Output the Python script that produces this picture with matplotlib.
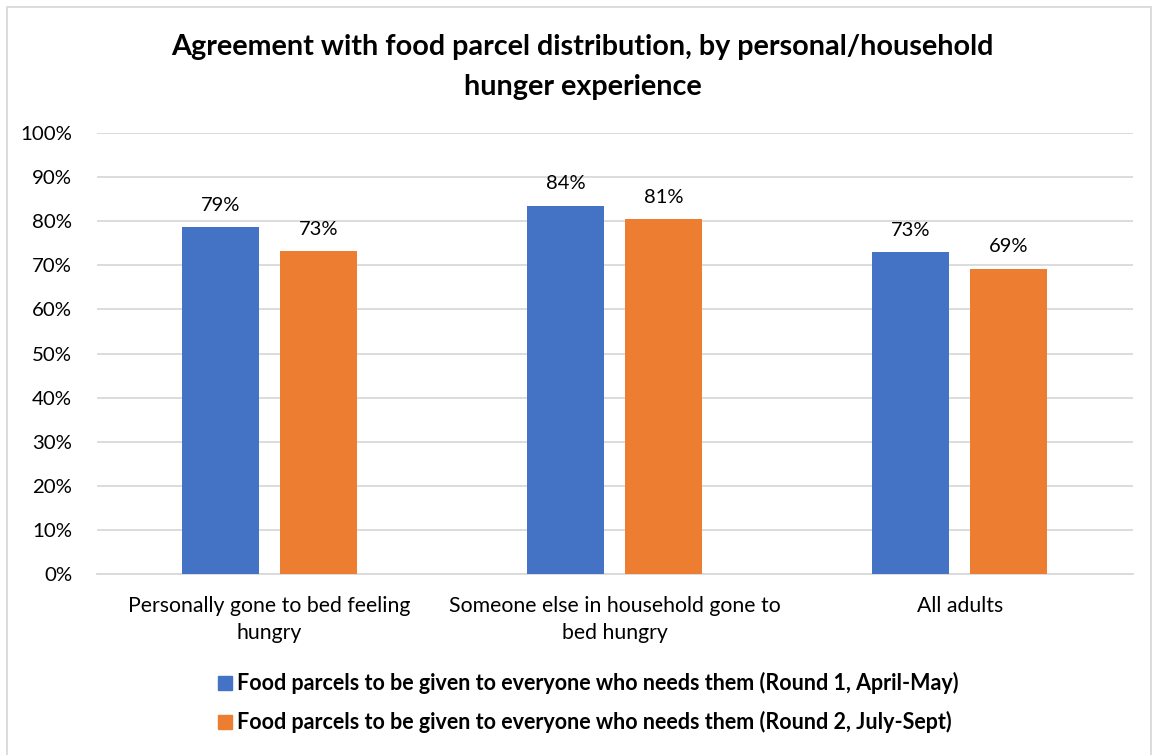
import matplotlib
matplotlib.use("Agg")
import matplotlib.pyplot as plt
import numpy as np
from matplotlib.patches import Rectangle

categories = ["Personally gone to bed feeling\nhungry",
              "Someone else in household gone to\nbed hungry",
              "All adults"]
round1 = [78.7, 83.6, 73.1]
round2 = [73.3, 80.6, 69.3]
round1_labels = ["79%", "84%", "73%"]
round2_labels = ["73%", "81%", "69%"]
series_names = ["Food parcels to be given to everyone who needs them (Round 1, April-May)",
                "Food parcels to be given to everyone who needs them (Round 2, July-Sept)"]
yticks = [0, 10, 20, 30, 40, 50, 60, 70, 80, 90, 100]

plt.rcParams['font.family'] = ['Lato', 'DejaVu Sans']
blue = "#4472C4"
orange = "#ED7D31"
grid = "#D9D9D9"

fig = plt.figure(figsize=(11.58, 7.55), dpi=100)
ax = fig.add_axes([0.0838, 0.2401, 0.978 - 0.0838, 0.8234 - 0.2401])

x = np.arange(len(categories))
w = 0.223
off = 0.142
b1 = ax.bar(x - off, round1, w, color=blue, zorder=3)
b2 = ax.bar(x + off, round2, w, color=orange, zorder=3)
for bars, labs in ((b1, round1_labels), (b2, round2_labels)):
    for b, l in zip(bars, labs):
        ax.text(b.get_x() + b.get_width() / 2, b.get_height() + 3.0, l,
                ha="center", va="bottom", fontsize=14.5, color="#000000")

ax.set_xlim(-0.5, 2.5)
ax.set_ylim(0, 100)
ax.set_yticks(yticks)
ax.set_yticklabels([f"{t}%" for t in yticks], fontsize=14.7)
ax.set_xticks(x)
ax.set_xticklabels(categories, fontsize=15.3, linespacing=1.43)
ax.tick_params(axis="both", length=0)
ax.tick_params(axis="x", pad=16)
ax.tick_params(axis="y", pad=18)
ax.yaxis.grid(True, color=grid, linewidth=1.3, zorder=0)
for s in ("top", "right", "left"):
    ax.spines[s].set_visible(False)
ax.spines["bottom"].set_color(grid)
ax.spines["bottom"].set_linewidth(1.3)

fig.text(0.503, 1 - 67 / 755, "Agreement with food parcel distribution, by personal/household\nhunger experience",
         ha="center", va="center", fontsize=20.7, fontweight="bold", linespacing=1.62)

# legend
for i, (name, col) in enumerate(zip(series_names, [blue, orange])):
    yc = 683 + 39 * i
    fig.patches.append(Rectangle((218 / 1158, 1 - (yc + 7) / 755), 14 / 1158, 14 / 755,
                                 transform=fig.transFigure, color=col))
    fig.text(237 / 1158, 1 - yc / 755, name, ha="left", va="center",
             fontsize=15.5, fontweight="bold")

# outer border
fig.patches.append(Rectangle((7 / 1158, -0.01), 1 - 14 / 1158, 1 - 7 / 755 + 0.01,
                             transform=fig.transFigure, fill=False, edgecolor=grid, linewidth=1.3))

fig.savefig("out.png", dpi=100, facecolor="white")
